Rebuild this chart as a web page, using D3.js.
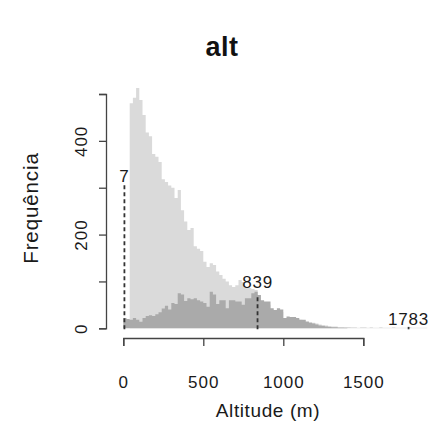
<!DOCTYPE html>
<html>
<head>
<meta charset="utf-8">
<script src="https://cdn.jsdelivr.net/npm/d3@7"></script>
<style>
  html, body { margin: 0; padding: 0; background: #fff; }
  svg { display: block; font-family: "Liberation Sans", Arial, sans-serif; }
</style>
</head>
<body>
<svg id="chart" width="434" height="439"></svg>
<script>
// Histogram of altitude: all records (light) and the subset (dark), 20 m bins
const binWidth = 20;
const allCounts = [
  0, 0, 480, 492, 513, 487, 455, 418, 410, 372,
  366, 355, 318, 312, 305, 300, 278, 295, 252, 228,
  210, 214, 175, 170, 165, 142, 131, 139, 135, 121,
  114, 106, 100, 92, 88, 92, 103, 99, 88, 86,
  84, 82, 70, 58, 52, 50, 40, 36, 38, 35,
  20, 22, 24, 22, 20, 18, 17, 15, 13, 12,
  10, 8, 7, 6, 5, 4, 4, 3, 3, 2,
  3, 2, 2, 1, 2, 2, 1, 2, 1, 1,
  2, 1, 1, 1, 2, 1, 1, 1, 1, 2,
  1, 1, 1, 1, 1
];
const subsetCounts = [
  22, 20, 18, 22, 18, 14, 22, 26, 28, 26,
  30, 34, 42, 48, 40, 54, 52, 75, 72, 58,
  64, 62, 64, 60, 57, 54, 46, 78, 72, 52,
  60, 60, 43, 60, 60, 57, 57, 50, 64, 64,
  75, 78, 71, 60, 57, 57, 43, 39, 43, 40,
  22, 25, 24, 24, 22, 18, 18, 14, 12, 10,
  8, 6, 5, 4, 3, 2, 2, 1, 1, 1
];
// Reference altitudes (min, median-like, max), the height of their marker lines
// and the count level at which each label sits
const markerValues = [7, 839, 1783];
const markerHeights = [306, 72, 3];
const markerLabelLevels = [312, 86, 6];
const markerLabels = ["7", "839", "1783"];

const xTicks = [0, 500, 1000, 1500];
const yTicks = [0, 100, 200, 300, 400, 500];
const yTickLabels = ["0", "", "200", "", "400", ""];

const svg = d3.select("#chart");

const x = d3.scaleLinear().domain([0, 1500]).range([123.3, 363.3]);
const y = d3.scaleLinear().domain([0, 500]).range([328.3, 94]);

const lightFill = "#dadada";
const darkFill = "#aaaaaa";
const ink = "#1a1a1a";

// Each histogram is drawn as one stepped outline so adjacent bins join seamlessly
function drawBins(counts, fill) {
  const pts = counts.map((c, i) => ({ x0: i * binWidth, c }));
  pts.push({ x0: counts.length * binWidth, c: 0 });
  const area = d3.area()
    .x(d => x(d.x0))
    .y0(y(0))
    .y1(d => y(d.c))
    .curve(d3.curveStepAfter);
  svg.append("path")
    .datum(pts)
    .attr("d", area)
    .attr("fill", fill);
}
drawBins(allCounts, lightFill);
drawBins(subsetCounts, darkFill);

// Marker lines with labels
const markers = markerValues.map((v, i) => ({
  v, h: markerHeights[i], ly: markerLabelLevels[i], label: markerLabels[i]
}));
svg.append("g").selectAll("line")
  .data(markers)
  .join("line")
  .attr("x1", d => x(d.v)).attr("x2", d => x(d.v))
  .attr("y1", y(0) + 1).attr("y2", d => y(d.h))
  .attr("stroke", "#333")
  .attr("stroke-width", 1.8)
  .attr("stroke-dasharray", "4,3");
svg.append("g").selectAll("text")
  .data(markers)
  .join("text")
  .attr("x", d => x(d.v))
  .attr("y", d => y(d.ly))
  .attr("text-anchor", "middle")
  .attr("font-size", 17)
  .attr("letter-spacing", "0.8px")
  .attr("fill", ink)
  .text(d => d.label);

// X axis
const xAxis = svg.append("g")
  .attr("transform", "translate(0,338)")
  .call(d3.axisBottom(x).tickValues(xTicks).tickSize(8).tickPadding(30).tickFormat(d3.format("d")));
xAxis.select(".domain").attr("stroke", "#444").attr("stroke-width", 1.3);
xAxis.selectAll(".tick line").attr("stroke", "#444").attr("stroke-width", 1.3);
xAxis.selectAll(".tick text")
  .attr("font-size", 17).attr("letter-spacing", "1px")
  .attr("font-family", "Liberation Sans, Arial, sans-serif").attr("fill", ink);

// Y axis
const yAxis = svg.append("g")
  .attr("transform", "translate(106,0)")
  .call(d3.axisLeft(y).tickValues(yTicks).tickSize(7).tickFormat((d, i) => yTickLabels[i]));
yAxis.select(".domain").attr("stroke", "#444").attr("stroke-width", 1.3);
yAxis.selectAll(".tick line").attr("stroke", "#444").attr("stroke-width", 1.3);
yAxis.selectAll(".tick text")
  .attr("x", null).attr("dy", null)
  .attr("transform", "translate(-19,0) rotate(-90)")
  .attr("text-anchor", "middle")
  .attr("font-size", 17).attr("letter-spacing", "1px")
  .attr("font-family", "Liberation Sans, Arial, sans-serif").attr("fill", ink);

// Titles
svg.append("text")
  .attr("x", 222).attr("y", 56)
  .attr("text-anchor", "middle")
  .attr("font-size", 27).attr("font-weight", "bold")
  .attr("letter-spacing", "0.5px")
  .attr("fill", "#111")
  .text("alt");

svg.append("text")
  .attr("x", 268).attr("y", 417)
  .attr("text-anchor", "middle")
  .attr("font-size", 19).attr("letter-spacing", "0.6px")
  .attr("fill", ink)
  .text("Altitude (m)");

svg.append("text")
  .attr("transform", "translate(38,208) rotate(-90)")
  .attr("text-anchor", "middle")
  .attr("font-size", 20.5).attr("letter-spacing", "0.9px")
  .attr("fill", ink)
  .text("Frequência");
</script>
</body>
</html>
